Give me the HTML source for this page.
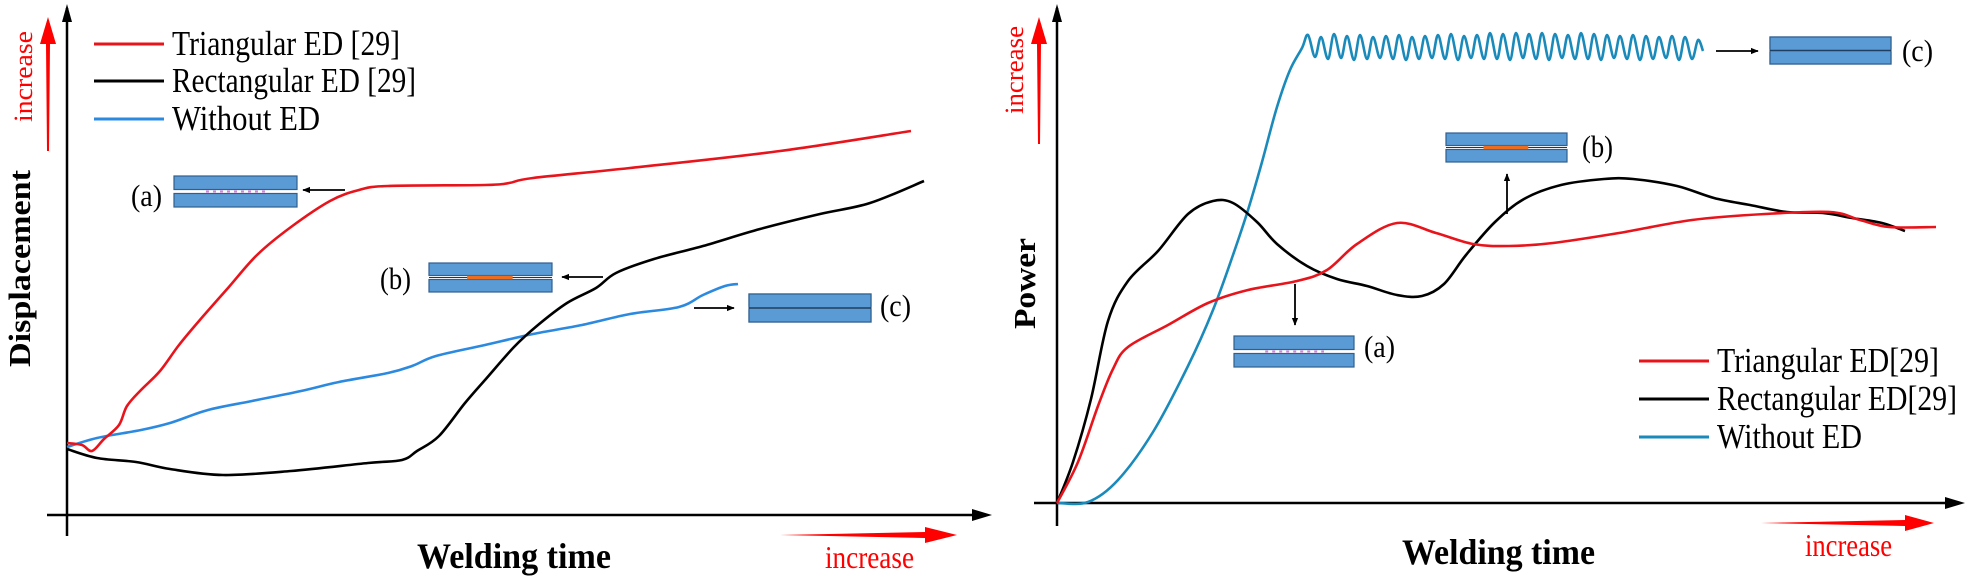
<!DOCTYPE html>
<html><head><meta charset="utf-8">
<style>
html,body{margin:0;padding:0;background:#fff;}
svg{display:block;}
text{font-family:"Liberation Serif",serif;}
</style></head>
<body>
<svg id="fig" width="1972" height="579" viewBox="0 0 1972 579" xmlns="http://www.w3.org/2000/svg">
<defs>
<marker id="ah" viewBox="0 0 10 10" refX="9" refY="5" markerWidth="8" markerHeight="8" orient="auto-start-reverse" markerUnits="userSpaceOnUse"><path d="M0,1 L10,5 L0,9 Z" fill="#000"/></marker>
</defs>
<!-- LEFT PANEL -->
<g>
<line x1="67" y1="536" x2="67" y2="8" stroke="#000" stroke-width="2.5"/>
<path d="M67,4 L62,22 L72,22 Z" fill="#000"/>
<line x1="47" y1="515" x2="980" y2="515" stroke="#000" stroke-width="2.5"/>
<path d="M992,515 L972,509 L972,521 Z" fill="#000"/>
<polygon points="48,17 56,44 50,44 49,151 47,151 46,44 40,44" fill="#ff0000"/>
<text transform="translate(32,122) rotate(-90)" font-size="26" fill="#ff0000" textLength="91" lengthAdjust="spacingAndGlyphs">increase</text>
<text transform="translate(30,367) rotate(-90)" font-size="31" font-weight="bold" fill="#000" textLength="197" lengthAdjust="spacingAndGlyphs">Displacement</text>
<text x="417" y="568" font-size="36" font-weight="bold" textLength="194" lengthAdjust="spacingAndGlyphs">Welding time</text>
<polygon points="780,535 925,532 925,527 957,535 925,543 925,538" fill="#ff0000"/>
<text x="825" y="568" font-size="32" fill="#ff0000" textLength="89" lengthAdjust="spacingAndGlyphs">increase</text>
<g>
<line x1="94" y1="44" x2="164" y2="44" stroke="#e8141c" stroke-width="3"/>
<text x="172" y="55" font-size="35" textLength="228" lengthAdjust="spacingAndGlyphs">Triangular ED [29]</text>
<line x1="94" y1="81" x2="164" y2="81" stroke="#000" stroke-width="3"/>
<text x="172" y="92" font-size="35" textLength="244" lengthAdjust="spacingAndGlyphs">Rectangular ED [29]</text>
<line x1="94" y1="119" x2="164" y2="119" stroke="#2b8ae0" stroke-width="3"/>
<text x="172" y="130" font-size="35" textLength="148" lengthAdjust="spacingAndGlyphs">Without ED</text>
</g>
<g id="leftSeries"></g>
<g id="leftAnn"></g>
</g>
<!-- RIGHT PANEL -->
<g>
<line x1="1057" y1="526" x2="1057" y2="8" stroke="#000" stroke-width="2.5"/>
<path d="M1057,4 L1052,22 L1062,22 Z" fill="#000"/>
<line x1="1034" y1="503" x2="1952" y2="503" stroke="#000" stroke-width="2.5"/>
<path d="M1965,503 L1945,497 L1945,509 Z" fill="#000"/>
<polygon points="1039,17 1047,44 1041,44 1040,144 1038,144 1037,44 1031,44" fill="#ff0000"/>
<text transform="translate(1023,114) rotate(-90)" font-size="26" fill="#ff0000" textLength="88" lengthAdjust="spacingAndGlyphs">increase</text>
<text transform="translate(1035,329) rotate(-90)" font-size="31" font-weight="bold" textLength="91" lengthAdjust="spacingAndGlyphs">Power</text>
<text x="1402" y="564" font-size="36" font-weight="bold" textLength="193" lengthAdjust="spacingAndGlyphs">Welding time</text>
<polygon points="1761,523 1905,520 1905,515 1934,523 1905,531 1905,526" fill="#ff0000"/>
<text x="1805" y="556" font-size="32" fill="#ff0000" textLength="87" lengthAdjust="spacingAndGlyphs">increase</text>
<g>
<line x1="1639" y1="361" x2="1709" y2="361" stroke="#e8141c" stroke-width="3"/>
<text x="1717" y="372" font-size="35" textLength="222" lengthAdjust="spacingAndGlyphs">Triangular ED[29]</text>
<line x1="1639" y1="399" x2="1709" y2="399" stroke="#000" stroke-width="3"/>
<text x="1717" y="410" font-size="35" textLength="240" lengthAdjust="spacingAndGlyphs">Rectangular ED[29]</text>
<line x1="1639" y1="437" x2="1709" y2="437" stroke="#1a8abb" stroke-width="3"/>
<text x="1717" y="448" font-size="35" textLength="145" lengthAdjust="spacingAndGlyphs">Without ED</text>
</g>
<g id="rightSeries"></g>
<g id="rightAnn"></g>
</g>
</svg>
<script>
// ---- Left chart data (time units, displacement units) ----
const leftRedT = [0,15,25,37,52,60,74,93,112,132,161,190,224,263,292,321,418,442,466,563,713,844];
const leftRedV = [72,70,64,76,90,109,125,144,170,194,227,260,288,314,325,329,330,332,337,347,364,384];
const leftBlackT = [0,30,69,103,156,224,301,335,350,372,398,418,447,471,500,529,549,587,636,693,753,803,857];
const leftBlackV = [66,57,53,46,40,44,52,55,64,79,112,135,168,190,212,227,242,256,269,286,301,312,334];
const leftBlueT = [0,30,74,103,141,185,234,272,321,345,369,418,466,515,563,612,636,658,671];
const leftBlueV = [68,77,85,92,105,114,124,133,142,149,159,170,181,190,201,208,220,229,231];
// ---- Right chart data (time units, power units) ----
const rightBlackT = [0,16,34,51,71,101,131,156,176,200,220,250,280,310,340,365,387,409,438,467,504,547,576,620,657,693,730,766,795,825,848];
const rightBlackV = [0,41,104,182,222,252,289,302,300,281,259,237,224,217,208,207,219,248,281,304,318,324,324,317,305,298,291,290,285,280,272];
const rightRedT = [0,21,41,56,71,111,151,191,240,270,300,340,379,416,452,496,562,635,708,773,803,832,879];
const rightRedV = [0,41,97,134,156,178,200,213,222,233,259,280,270,259,257,260,270,283,289,291,283,276,276];
const rightBlueT = [0,31,61,96,131,156,176,191,205,220,233,245,
251,258,264,271,277,284,290,297,303,310,316,323,329,336,342,349,355,362,368,375,381,388,394,401,407,414,420,427,433,440,446,453,459,466,472,479,485,492,498,505,511,518,524,531,537,544,550,557,563,570,576,583,589,596,602,609,615,622,628,635,641,646];
const rightBlueV = [0,1,23,71,137,193,248,293,341,396,433,455,
468,446,466,444,469,445,467,443,468,444,466,445,467,444,468,443,466,444,467,445,468,444,469,443,467,445,468,444,470,444,469,443,470,445,469,444,470,443,469,445,468,444,470,444,469,443,468,445,467,444,468,443,467,444,466,445,467,443,466,444,463,452];

const NS = 'http://www.w3.org/2000/svg';
const lx = t => 67 + t, ly = v => 515 - v;
const rx = t => 1057 + t, ry = v => 503 - v;

function smoothPath(pts){
  let d = 'M' + pts[0][0].toFixed(1) + ',' + pts[0][1].toFixed(1);
  for (let i = 0; i < pts.length - 1; i++){
    const p0 = pts[Math.max(0,i-1)], p1 = pts[i], p2 = pts[i+1], p3 = pts[Math.min(pts.length-1,i+2)];
    const c1x = p1[0] + (p2[0]-p0[0])/6, c1y = p1[1] + (p2[1]-p0[1])/6;
    const c2x = p2[0] - (p3[0]-p1[0])/6, c2y = p2[1] - (p3[1]-p1[1])/6;
    d += ' C' + c1x.toFixed(1) + ',' + c1y.toFixed(1) + ' ' + c2x.toFixed(1) + ',' + c2y.toFixed(1) + ' ' + p2[0].toFixed(1) + ',' + p2[1].toFixed(1);
  }
  return d;
}
function drawSeries(parent, T, V, xs, ys, color, name){
  const pts = T.map((t,i) => [xs(t), ys(V[i])]);
  const p = document.createElementNS(NS,'path');
  p.setAttribute('d', smoothPath(pts));
  p.setAttribute('fill','none');
  p.setAttribute('stroke', color);
  p.setAttribute('stroke-width','2.6');
  p.setAttribute('stroke-linejoin','round');
  
  
  parent.appendChild(p);
}
const LS = document.getElementById('leftSeries');
drawSeries(LS, leftBlueT, leftBlueV, lx, ly, '#2b8ae0', 'left-line-without-ed');
drawSeries(LS, leftBlackT, leftBlackV, lx, ly, '#000', 'left-line-rectangular-ed');
drawSeries(LS, leftRedT, leftRedV, lx, ly, '#e8141c', 'left-line-triangular-ed');
const RS = document.getElementById('rightSeries');
drawSeries(RS, rightBlueT, rightBlueV, rx, ry, '#1a8abb', 'right-line-without-ed');
drawSeries(RS, rightBlackT, rightBlackV, rx, ry, '#000', 'right-line-rectangular-ed');
drawSeries(RS, rightRedT, rightRedV, rx, ry, '#e8141c', 'right-line-triangular-ed');

// ---- Annotations: schematic boxes, arrows, labels ----
function el(tag, attrs, parent){
  const e = document.createElementNS(NS, tag);
  for (const k in attrs) e.setAttribute(k, attrs[k]);
  parent.appendChild(e);
  return e;
}
function joint(parent, x, y, w, h, kind, name){
  const g = el('g', {}, parent);
  
  
  const mid = y + h/2;
  el('rect', {x:x, y:y, width:w, height:h/2-2, fill:'#5b9bd5', stroke:'#2f5f8f', 'stroke-width':1.2}, g);
  el('rect', {x:x, y:mid+2, width:w, height:h/2-2, fill:'#5b9bd5', stroke:'#2f5f8f', 'stroke-width':1.2}, g);
  if (kind === 'c') {
    el('rect', {x:x, y:y, width:w, height:h, fill:'#5b9bd5', stroke:'#2f5f8f', 'stroke-width':1.2}, g);
    el('line', {x1:x, y1:mid, x2:x+w, y2:mid, stroke:'#1f3f60', 'stroke-width':1.5}, g);
  } else if (kind === 'b') {
    el('line', {x1:x, y1:mid, x2:x+w, y2:mid, stroke:'#333', 'stroke-width':1}, g);
    el('line', {x1:x+w*0.31, y1:mid, x2:x+w*0.68, y2:mid, stroke:'#ed6d1f', 'stroke-width':3.5}, g);
  } else {
    el('line', {x1:x+w*0.26, y1:mid, x2:x+w*0.75, y2:mid, stroke:'#e07be0', 'stroke-width':2, 'stroke-dasharray':'3,4'}, g);
  }
}
function arrow(parent, x1, y1, x2, y2, name){
  const a = el('line', {x1:x1, y1:y1, x2:x2, y2:y2, stroke:'#000', 'stroke-width':1.8, 'marker-end':'url(#ah)'}, parent);
  
  
}
function label(parent, x, y, s, name){
  const t = el('text', {x:x, y:y, 'font-size':31, textLength:31, lengthAdjust:'spacingAndGlyphs'}, parent);
  t.textContent = s;
  
  
}
const LA = document.getElementById('leftAnn');
label(LA, 131, 206, '(a)', 'left-label-a');
joint(LA, 174, 176, 123, 31, 'a', 'left-joint-a');
arrow(LA, 345, 190, 303, 190, 'left-arrow-a');
label(LA, 380, 289, '(b)', 'left-label-b');
joint(LA, 429, 263, 123, 29, 'b', 'left-joint-b');
arrow(LA, 603, 277, 562, 277, 'left-arrow-b');
arrow(LA, 694, 308, 734, 308, 'left-arrow-c');
joint(LA, 749, 294, 122, 28, 'c', 'left-joint-c');
label(LA, 880, 316, '(c)', 'left-label-c');

const RA = document.getElementById('rightAnn');
arrow(RA, 1716, 51, 1758, 51, 'right-arrow-c');
joint(RA, 1770, 37, 121, 27, 'c', 'right-joint-c');
label(RA, 1902, 61, '(c)', 'right-label-c');
joint(RA, 1446, 133, 121, 29, 'b', 'right-joint-b');
label(RA, 1582, 157, '(b)', 'right-label-b');
arrow(RA, 1507, 214, 1507, 174, 'right-arrow-b');
arrow(RA, 1295, 284, 1295, 325, 'right-arrow-a');
joint(RA, 1234, 336, 120, 31, 'a', 'right-joint-a');
label(RA, 1364, 357, '(a)', 'right-label-a');
</script>
</body></html>
